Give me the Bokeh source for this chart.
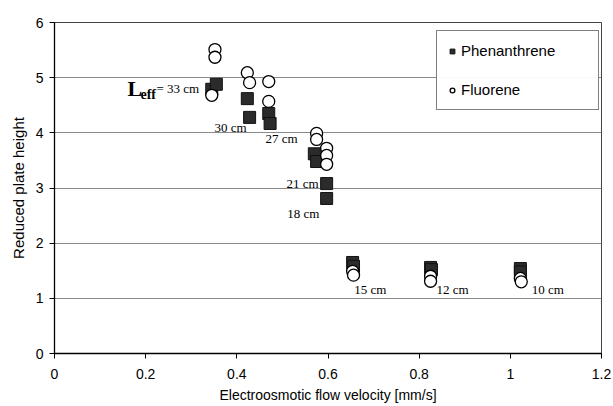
from bokeh.plotting import figure
from bokeh.models import Range1d, FixedTicker, Legend, LegendItem, Label, ColumnDataSource
from bokeh.core.properties import value
from bokeh.embed import file_html
from bokeh.resources import INLINE

# Data
phen_x = [0.345, 0.355, 0.423, 0.428, 0.470, 0.473, 0.570, 0.575, 0.597, 0.597, 0.654, 0.656, 0.825, 0.827, 1.022, 1.022]
phen_y = [4.79, 4.88, 4.62, 4.28, 4.35, 4.17, 3.62, 3.48, 3.08, 2.81, 1.65, 1.58, 1.56, 1.52, 1.54, 1.48]
fluo_x = [0.352, 0.352, 0.345, 0.423, 0.428, 0.470, 0.470, 0.575, 0.575, 0.597, 0.597, 0.597, 0.654, 0.656, 0.825, 0.825, 1.022, 1.024]
fluo_y = [5.51, 5.37, 4.68, 5.09, 4.91, 4.93, 4.57, 3.99, 3.88, 3.72, 3.59, 3.43, 1.49, 1.42, 1.40, 1.31, 1.36, 1.30]

x_ticks = [0, 0.2, 0.4, 0.6, 0.8, 1.0, 1.2]
x_tick_labels = ["0", "0.2", "0.4", "0.6", "0.8", "1", "1.2"]
y_ticks = [0, 1, 2, 3, 4, 5, 6]

len_labels = ["30 cm", "27 cm", "21 cm", "18 cm", "15 cm", "12 cm", "10 cm"]
len_label_x = [0.386, 0.498, 0.544, 0.546, 0.693, 0.873, 1.082]
len_label_y = [4.10, 3.90, 3.08, 2.54, 1.16, 1.16, 1.16]

p = figure(width=613, height=406, output_backend="svg", toolbar_location=None,
           x_range=Range1d(0, 1.2), y_range=Range1d(0, 6),
           min_border_left=54, min_border_right=12, min_border_top=22, min_border_bottom=53)
p.background_fill_color = "white"
p.border_fill_color = "white"
p.outline_line_color = "#444444"
p.outline_line_width = 1

p.xgrid.visible = False
p.ygrid.ticker = FixedTicker(ticks=y_ticks)
p.ygrid.grid_line_color = "#8a8a8a"
p.ygrid.grid_line_width = 1

p.xaxis.ticker = FixedTicker(ticks=x_ticks)
p.xaxis.major_label_overrides = {t: l for t, l in zip(x_ticks, x_tick_labels)}
p.yaxis.ticker = FixedTicker(ticks=y_ticks)

for ax in (p.xaxis, p.yaxis):
    ax.axis_line_color = "black"
    ax.axis_line_width = 1.3
    ax.major_tick_line_color = "black"
    ax.major_tick_out = 5
    ax.major_tick_in = 0
    ax.minor_tick_line_color = None
    ax.major_label_text_font = "Liberation Sans"
    ax.major_label_text_font_size = "14px"
    ax.major_label_text_color = "black"
    ax.axis_label_text_font = "Liberation Sans"
    ax.axis_label_text_font_style = "normal"
    ax.axis_label_text_color = "black"

p.xaxis.major_label_standoff = 10
p.yaxis.major_label_standoff = 6
p.xaxis.axis_label = "Electroosmotic flow velocity [mm/s]"
p.xaxis.axis_label_text_font_size = "14px"
p.xaxis.axis_label_standoff = 5
p.yaxis.axis_label = "Reduced plate height"
p.yaxis.axis_label_text_font_size = "15px"
p.yaxis.axis_label_standoff = 6

r_phen = p.scatter(phen_x, phen_y, marker="square", size=12,
                   fill_color="#2b2b2b", line_color="#111111", line_width=1)
r_fluo = p.scatter(fluo_x, fluo_y, marker="circle", size=12,
                   fill_color="white", line_color="black", line_width=1.3)

legend = Legend(items=[LegendItem(label="Phenanthrene", renderers=[r_phen]),
                       LegendItem(label="Fluorene", renderers=[r_fluo])],
                location=(382, 243), orientation="vertical")
legend.border_line_color = "black"
legend.border_line_width = 1
legend.background_fill_color = "white"
legend.label_text_font = "Liberation Sans"
legend.label_text_font_size = "15px"
legend.label_text_color = "black"
legend.padding = 9
legend.margin = 0
legend.spacing = 18
legend.label_height = 21
legend.glyph_height = 14
legend.glyph_width = 12
legend.label_standoff = 3
legend.label_width = 128
p.add_layout(legend, "center")

src = ColumnDataSource(dict(x=len_label_x, y=len_label_y, t=len_labels))
p.text(x="x", y="y", text="t", source=src, text_font=value("Liberation Serif"),
       text_font_size="13px", text_align="center", text_baseline="middle", text_color="black")

# L_eff = 33 cm label
leff_x = 0.160
leff_y = 4.80
p.add_layout(Label(x=leff_x, y=leff_y, text="L", text_font="Liberation Serif", text_font_style="bold",
                   text_font_size="22px", text_baseline="middle", text_align="left", text_color="black"))
p.add_layout(Label(x=leff_x, y=leff_y, x_offset=13, y_offset=-6, text="eff", text_font="Liberation Serif",
                   text_font_style="bold", text_font_size="14px", text_baseline="middle", text_align="left",
                   text_color="black"))
p.add_layout(Label(x=leff_x, y=leff_y, x_offset=29, y_offset=0, text="= 33 cm", text_font="Liberation Serif",
                   text_font_size="13px", text_baseline="middle", text_align="left", text_color="black"))

open("out.html", "w").write(file_html(p, INLINE))
